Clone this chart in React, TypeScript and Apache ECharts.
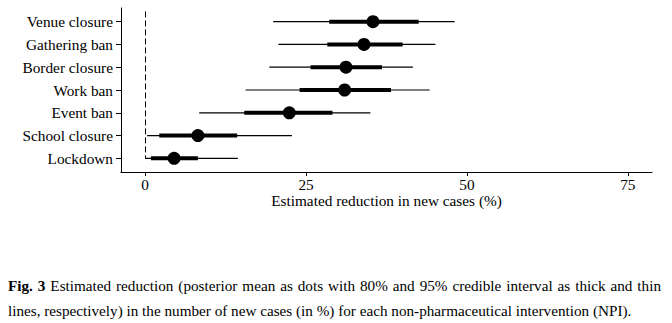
import React, { useEffect, useRef } from "react";
import * as echarts from "echarts";

const categories = ["Lockdown", "School closure", "Event ban", "Work ban", "Border closure", "Gathering ban", "Venue closure"];
const meanVals = [4.5, 8.2, 22.4, 31.0, 31.2, 34.0, 35.4];
const lo80 = [0.9, 2.2, 15.4, 24.0, 25.7, 28.3, 28.6];
const hi80 = [8.2, 14.3, 29.1, 38.2, 36.8, 40.0, 42.5];
const lo95 = [0.0, 0.3, 8.4, 15.6, 19.3, 20.7, 19.9];
const hi95 = [14.4, 22.8, 35.0, 44.2, 41.6, 45.1, 48.1];
const xTicks = [0, 25, 50, 75];
const xTitle = "Estimated reduction in new cases (%)";
const captionBold = "Fig. 3";
const captionLine1 = "Estimated reduction (posterior mean as dots with 80% and 95% credible interval as thick and thin";
const captionLine2 = "lines, respectively) in the number of new cases (in %) for each non-pharmaceutical intervention (NPI).";

const FONT = "Liberation Serif";
const AXIS_FS = 15.3;
const CAP_FS = 15.2;

function measure(text: string, bold: boolean, size: number): number {
  const cv = document.createElement("canvas");
  const ctx = cv.getContext("2d");
  if (!ctx) return text.length * size * 0.45;
  ctx.font = (bold ? "bold " : "") + size + "px " + FONT;
  return ctx.measureText(text).width;
}

function justifiedLine(left: number, right: number, y: number) {
  const words: { t: string; bold: boolean }[] = [
    ...captionBold.split(" ").map((t) => ({ t, bold: true })),
    ...captionLine1.split(" ").map((t) => ({ t, bold: false })),
  ];
  const widths = words.map((w) => measure(w.t, w.bold, CAP_FS));
  const total = widths.reduce((a, b) => a + b, 0);
  const gap = (right - left - total) / (words.length - 1);
  let x = left;
  return words.map((w, i) => {
    const el = {
      type: "text",
      x,
      y,
      style: {
        text: w.t,
        fontFamily: FONT,
        fontSize: CAP_FS,
        fontWeight: w.bold ? "bold" : "normal",
        fill: "#000",
        verticalAlign: "middle",
      },
    };
    x += widths[i] + gap;
    return el;
  });
}

export default function App() {
  const ref = useRef<HTMLDivElement>(null);
  useEffect(() => {
    if (!ref.current) return;
    const chart = echarts.init(ref.current, null, { renderer: "svg" });
    const rowTicks = categories.map((_, i) => i + 1);
    const option: any = {
      animation: false,
      backgroundColor: "#fff",
      textStyle: { fontFamily: FONT },
      grid: { left: 121, right: 20, top: 8, bottom: 151, containLabel: false },
      xAxis: {
        type: "value",
        min: -3.75,
        max: 78.75,
        splitLine: { show: false },
        axisLine: { show: true, onZero: false, lineStyle: { color: "#000", width: 1 } },
        axisTick: { show: true, customValues: xTicks, length: 4, lineStyle: { color: "#000" } },
        axisLabel: { customValues: xTicks, color: "#000", fontFamily: FONT, fontSize: AXIS_FS, margin: 5 },
      },
      yAxis: {
        type: "value",
        min: 0.4,
        max: 7.6,
        splitLine: { show: false },
        axisLine: { show: true, onZero: false, lineStyle: { color: "#000", width: 1 } },
        axisTick: { show: true, customValues: rowTicks, length: 5, lineStyle: { color: "#000" } },
        axisLabel: {
          customValues: rowTicks,
          color: "#000",
          fontFamily: FONT,
          fontSize: AXIS_FS,
          margin: 8,
          formatter: (v: number) => categories[Math.round(v) - 1] ?? "",
        },
      },
      series: [
        {
          type: "custom",
          data: categories.map((_, i) => [lo95[i], hi95[i], lo80[i], hi80[i], i + 1]),
          encode: { x: [0, 1, 2, 3], y: 4 },
          renderItem: (params: any, api: any) => {
            const y = api.value(4);
            const a = api.coord([api.value(0), y]);
            const b = api.coord([api.value(1), y]);
            const c = api.coord([api.value(2), y]);
            const d = api.coord([api.value(3), y]);
            return {
              type: "group",
              children: [
                { type: "line", shape: { x1: a[0], y1: a[1], x2: b[0], y2: b[1] }, style: { stroke: "#000", lineWidth: 1.2 } },
                { type: "line", shape: { x1: c[0], y1: c[1], x2: d[0], y2: d[1] }, style: { stroke: "#000", lineWidth: 4 } },
              ],
            };
          },
          z: 2,
        },
        {
          type: "scatter",
          data: categories.map((_, i) => [meanVals[i], i + 1]),
          symbol: "circle",
          symbolSize: 13,
          itemStyle: { color: "#000", opacity: 1 },
          z: 3,
          markLine: {
            silent: true,
            symbol: "none",
            label: { show: false },
            lineStyle: { color: "#000", width: 1, type: [6, 3] },
            data: [[{ coord: [0, 7.45] }, { coord: [0, 1] }]],
          },
        },
      ],
      graphic: [
        {
          type: "text",
          x: 386.5,
          y: 200,
          style: {
            text: xTitle,
            fontFamily: FONT,
            fontSize: AXIS_FS,
            fill: "#000",
            align: "center",
            verticalAlign: "middle",
          },
        },
        ...justifiedLine(8, 661, 285),
        {
          type: "text",
          x: 8,
          y: 310,
          style: { text: captionLine2, fontFamily: FONT, fontSize: CAP_FS, fill: "#000", verticalAlign: "middle" },
        },
      ],
    };
    chart.setOption(option);
    return () => chart.dispose();
  }, []);
  return <div ref={ref} style={{ position: "absolute", left: 0, top: 0, width: 672, height: 323 }} />;
}
